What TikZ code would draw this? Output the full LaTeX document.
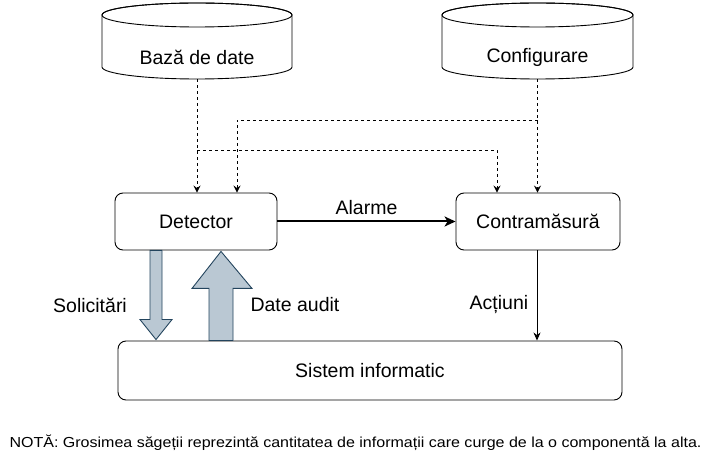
\documentclass[tikz,border=0pt]{standalone}
\usepackage{fontspec}
\setmainfont{Liberation Sans}
\usetikzlibrary{arrows.meta,calc}
\definecolor{fatfill}{HTML}{BAC8D3}
\definecolor{fatdraw}{HTML}{23445D}
\newcommand\mycyl[5]{% cx, top, bottom, rx, ry
  \path[fill=white,draw=black,line width=0.9pt] (#1-#4,#2-#5) -- (#1-#4,#3+#5)
    arc[start angle=180,end angle=360,x radius=#4pt,y radius=#5pt]
    -- (#1+#4,#2-#5) arc[start angle=0,end angle=180,x radius=#4pt,y radius=#5pt] -- cycle;
  \draw[line width=0.9pt] (#1,#2-#5) ellipse[x radius=#4pt,y radius=#5pt];}
\begin{document}
\begin{tikzpicture}[x=1pt,y=1pt,
  every node/.style={font=\fontsize{19.5}{23}\selectfont},
  box/.style={draw=black,line width=0.9pt,rounded corners=8pt,inner sep=0pt},
  ghost/.style={inner sep=0pt},
  dsh/.style={line width=0.9pt,dash pattern=on 3pt off 3pt,-{Stealth[length=7pt,width=7pt,inset=2.5pt]}},
  fat/.style={fill=fatfill,draw=fatdraw,line width=0.9pt,line join=miter},
  lbl/.style={inner sep=0pt}]
\useasboundingbox (0,0) rectangle (710,461);
% cylinders
\mycyl{197}{458}{382}{95}{12}
\mycyl{537.5}{458}{382}{95.5}{12}
\node[ghost,minimum width=190pt,minimum height=76pt] (db) at (197,420) {};
\node[ghost,minimum width=191pt,minimum height=76pt] (cf) at (537.5,420) {};
\node[lbl] (dbt) at (197,404) {Bază de date};
\node[lbl] (cft) at (537.5,404) {Configurare};
% boxes
\node[box,minimum width=162pt,minimum height=57pt] (det) at (196,239.5) {Detector};
\node[box,minimum width=164pt,minimum height=57pt] (con) at (538,239.5) {Contramăsură};
\node[box,minimum width=504pt,minimum height=59pt] (sis) at (370,90.5) {Sistem informatic};
% dashed connectors
\draw[dsh] (db.south) -- (db.south |- det.north);
\coordinate (j1) at (197,311);
\coordinate (j2) at (497,311);
\draw[dsh] (j1) -- (j2) -- (j2 |- con.north);
\coordinate (j3) at (537.5,341);
\coordinate (j4) at (237,341);
\draw[dsh] (j3) -- (j4) -- (j4 |- det.north);
\draw[dsh] (cf.south) -- (cf.south |- con.north);
% Alarme
\draw[line width=2pt,-{Stealth[length=11pt,width=10pt,inset=3pt]}] (det.east) -- (con.west) node[lbl,midway,above=6pt] (alr) {Alarme};
% Actiuni
\coordinate (a1) at (537,0);
\draw[line width=0.9pt,-{Stealth[length=8pt,width=7pt,inset=2.5pt]}] (a1 |- con.south) -- (a1 |- sis.north);
\node[lbl] (act) at (499,156) {Acțiuni};
% fat arrows
\coordinate (s0) at (156,0);
\coordinate (st) at (s0 |- det.south);
\coordinate (sb) at ($(s0 |- sis.north)+(0,1)$);
\draw[fat] ($(st)+(-6,0)$) -- ($(sb)+(-6,20)$) -- ($(sb)+(-16,20)$) -- (sb) -- ($(sb)+(16,20)$) -- ($(sb)+(6,20)$) -- ($(st)+(6,0)$) -- cycle;
\coordinate (u0) at (221,0);
\coordinate (ub) at (u0 |- sis.north);
\coordinate (ut) at ($(u0 |- det.south)+(0,-1)$);
\draw[fat] ($(ub)+(-12,0)$) -- ($(ut)+(-12,-37)$) -- ($(ut)+(-29,-37)$) -- (ut) -- ($(ut)+(31,-37)$) -- ($(ut)+(12,-37)$) -- ($(ub)+(12,0)$) -- cycle;
\node[lbl] (sol) at (90,156) {Solicitări};
\node[lbl] (dau) at (295,156) {Date audit};
% note
\node[lbl,font=\fontsize{14.5}{17}\selectfont] (nota) at (355.5,18) {\scalebox{1.105}[1]{NOTĂ: Grosimea săgeții reprezintă cantitatea de informații care curge de la o componentă la alta.}};
\end{tikzpicture}
\end{document}
